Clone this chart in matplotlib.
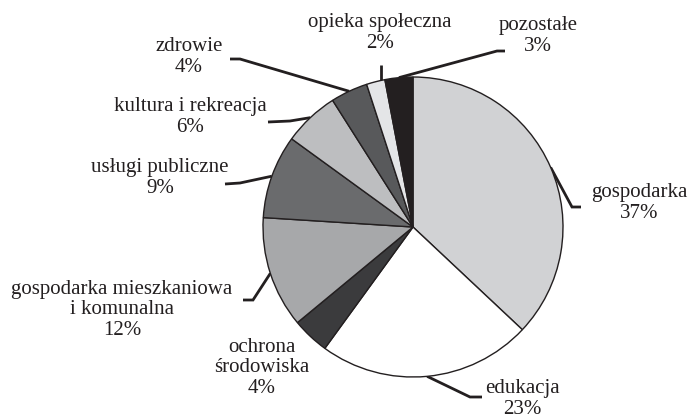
import matplotlib.pyplot as plt
import numpy as np

plt.rcParams["font.family"] = ["Liberation Serif", "DejaVu Serif"]

# data
labels = ["gospodarka", "edukacja", "ochrona\nśrodowiska", "gospodarka mieszkaniowa\ni komunalna",
          "usługi publiczne", "kultura i rekreacja", "zdrowie", "opieka społeczna", "pozostałe"]
shares = [37, 23, 4, 12, 9, 6, 4, 2, 3]
colors = ["#d1d2d4", "#ffffff", "#3b3b3d", "#a7a8aa", "#6a6b6d", "#bdbec0", "#58595b", "#e4e5e7", "#231f20"]

# layout (pixel coords, y from top)
H = 418
center = (413, 227)
radius = 150
# text block centers
text_pos = [(639, 203), (522, 399), (262, 368), (122, 310), (160, 178),
            (190, 117), (189, 57), (380, 33), (538, 36)]
# leader elbows / ends (None = no leader)
leaders = [
    [(572, 207), (581, 207)],
    [(470, 397), (482, 397)],
    None,
    [(253, 300), (243, 300)],
    [(240, 183), (225, 184)],
    [(290, 121), (268, 122)],
    [(240, 59), (230, 59)],
    [(381, 65)],
    [(497, 51), (505, 51)],
]

ink = "#231f20"

fig = plt.figure(figsize=(6.9, 4.18), dpi=100)
ax = fig.add_axes([0, 0, 1, 1])

wedges, _ = ax.pie(shares, colors=colors, startangle=90, counterclock=False,
                   center=(center[0], H - center[1]), radius=radius,
                   wedgeprops=dict(edgecolor=ink, linewidth=1.0))

for w, lab, val, tp, ld in zip(wedges, labels, shares, text_pos, leaders):
    ax.text(tp[0], H - tp[1], f"{lab}\n{val}%", ha="center", va="center",
            fontsize=15, color=ink, linespacing=1.12)
    if ld is None:
        continue
    mid = np.deg2rad((w.theta1 + w.theta2) / 2)
    x0 = center[0] + radius * np.cos(mid)
    y0 = (H - center[1]) + radius * np.sin(mid)
    if len(ld) == 1:
        x0 = ld[0][0]
        y0 = (H - center[1]) + np.sqrt(radius**2 - (x0 - center[0])**2)
    xs = [x0] + [p[0] for p in ld]
    ys = [y0] + [H - p[1] for p in ld]
    ax.plot(xs, ys, color=ink, lw=2.0, solid_capstyle="butt", solid_joinstyle="miter", zorder=0)

ax.set_xlim(0, 690)
ax.set_ylim(0, H)
ax.set_aspect("equal")
ax.axis("off")

fig.savefig("out.png", dpi=100, facecolor="white")
